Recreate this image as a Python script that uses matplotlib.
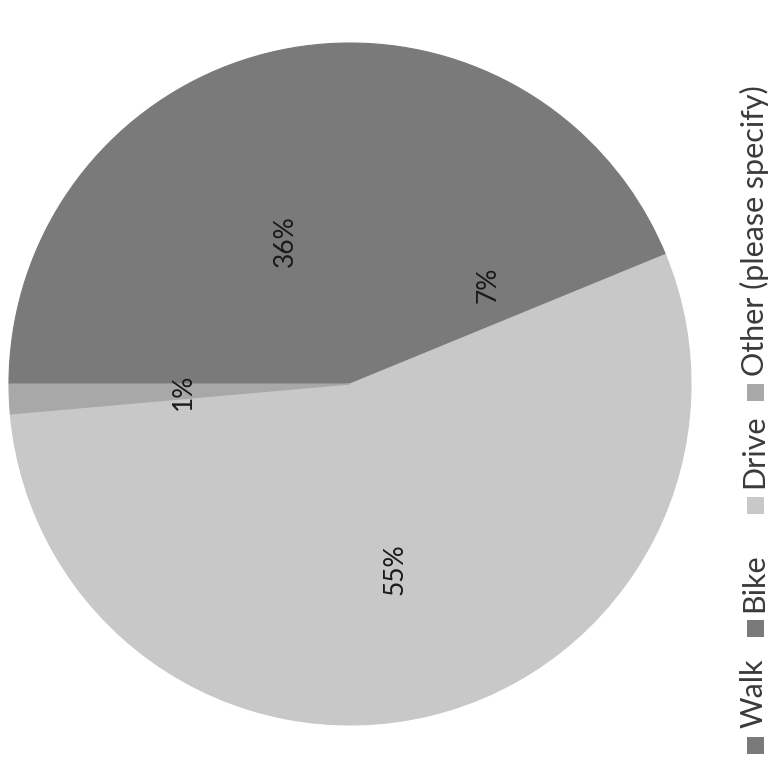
import matplotlib
matplotlib.use("Agg")
import matplotlib.pyplot as plt
from matplotlib.patches import Rectangle
import numpy as np

categories = ["Walk", "Bike", "Drive", "Other (please specify)"]
values = [36.4, 7.4, 54.8, 1.4]
colors = ["#7a7a7a", "#7a7a7a", "#c8c8c8", "#a8a8a8"]

W, H = 778, 767
FONT = ["Lato", "DejaVu Sans"]
fig = plt.figure(figsize=(W / 100, H / 100), dpi=100)
fig.patch.set_facecolor("white")

cx, cy, r = 350, 384, 341
ax = fig.add_axes([(cx - r) / W, (H - cy - r) / H, 2 * r / W, 2 * r / H])
wedges, texts, autotexts = ax.pie(
    values, colors=colors, startangle=180, counterclock=False,
    autopct="%.0f%%", pctdistance=0.5,
    wedgeprops=dict(linewidth=0.8),
    textprops=dict(fontsize=19, color="#1a1a1a", family=FONT),
)
for w in wedges:
    w.set_edgecolor(w.get_facecolor())
label_r = [0.46, 0.50, 0.56, 0.49]
for t, w, lr in zip(autotexts, wedges, label_r):
    ang = np.deg2rad((w.theta1 + w.theta2) / 2)
    t.set_position((lr * np.cos(ang), lr * np.sin(ang)))
    t.set_rotation(90)
    t.set_ha("center")
    t.set_va("center")
ax.set_xlim(-1, 1)
ax.set_ylim(-1, 1)
ax.set_aspect("equal")
ax.axis("off")

# Rotated legend along the right edge
leg_x = 755
sw = 17
swatch_y = [745, 628, 505, 392]
for cat, col, sy in zip(categories, colors, swatch_y):
    fig.patches.append(Rectangle(((leg_x - sw / 2) / W, (H - sy - sw / 2) / H),
                                 sw / W, sw / H, transform=fig.transFigure,
                                 facecolor=col, edgecolor="none"))
    fig.text((leg_x - 1) / W, (H - sy + sw / 2 + 8) / H, cat, rotation=90,
             ha="center", va="bottom", fontsize=22, color="#3a3a3a",
             family=FONT)

fig.savefig("out.png", dpi=100, facecolor="white")
